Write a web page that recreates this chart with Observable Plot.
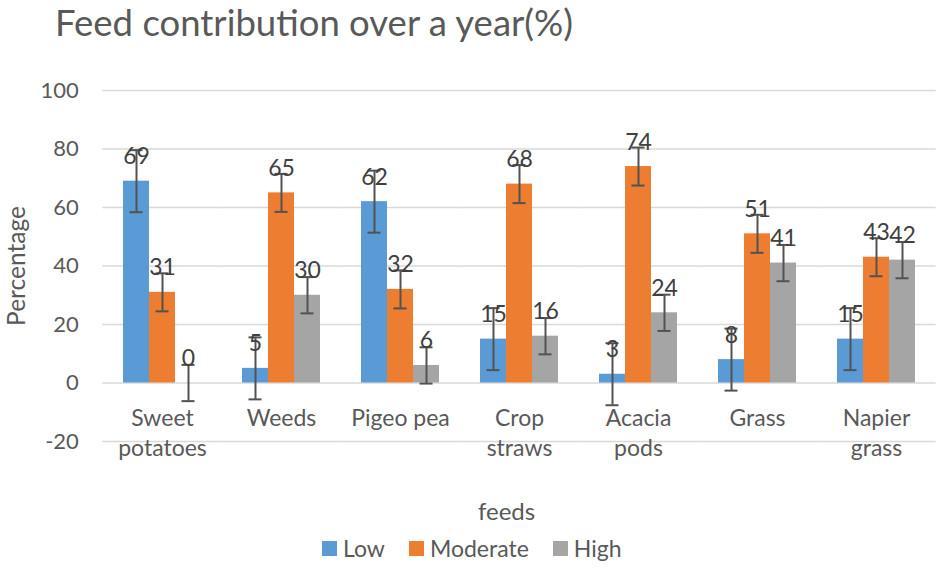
<!DOCTYPE html>
<html>
<head>
<meta charset="utf-8">
<script src="https://cdn.jsdelivr.net/npm/d3@7"></script>
<script src="https://cdn.jsdelivr.net/npm/@observablehq/plot@0.6"></script>
<style>
  body { margin: 0; background: #fff; font-family: Lato, "Open Sans", sans-serif; }
  #wrap { position: relative; width: 944px; height: 568px; overflow: hidden; background: #fff; }
  #chart { position: absolute; left: 0; top: 0; }
  #title { position: absolute; left: 55px; top: -2px; font-size: 36.5px; line-height: 48px; color: #595959; white-space: nowrap; }
  #xlabel { position: absolute; left: 478px; top: 496px; font-size: 24px; line-height: 30px; color: #595959; }
  #legend { position: absolute; left: 322px; top: 533px; display: flex; align-items: center; font-size: 23px; line-height: 30px; color: #595959; }
  .item { display: flex; align-items: center; margin-right: 24px; }
  .sw { width: 15px; height: 15px; margin-right: 6px; margin-top: 1px; }
</style>
</head>
<body>
<div id="wrap">
  <div id="chart"></div>
  <div id="title">Feed contribution over a year(%)</div>
  <div id="xlabel">feeds</div>
  <div id="legend"></div>
</div>
<script>
const categories = ["Sweet potatoes", "Weeds", "Pigeo pea", "Crop straws", "Acacia pods", "Grass", "Napier grass"];
const categoryLabels = ["Sweet\npotatoes", "Weeds", "Pigeo pea", "Crop\nstraws", "Acacia\npods", "Grass", "Napier\ngrass"];
const levels = ["Low", "Moderate", "High"];
const low = [69, 5, 62, 15, 3, 8, 15];
const moderate = [31, 65, 32, 68, 74, 51, 43];
const high = [0, 30, 6, 16, 24, 41, 42];
const lowErr = [10.6, 10.6, 10.6, 10.6, 10.6, 10.6, 10.6];
const moderateErr = [6.5, 6.5, 6.5, 6.5, 6.5, 6.5, 6.5];
const highErr = [6.2, 6.2, 6.2, 6.2, 6.2, 6.2, 6.2];
const yTicks = [-20, 0, 20, 40, 60, 80, 100];
const colors = ["#5B9BD5", "#ED7D31", "#A5A5A5"];

const series = [low, moderate, high];
const errs = [lowErr, moderateErr, highErr];
const data = [];
categories.forEach((c, i) => levels.forEach((l, j) => data.push({feed: c, level: l, value: series[j][i], err: errs[j][i]})));

const W = 944, H = 568, mL = 101, mR = 8;
const padInner = 0.346;
const halfGap = ((W - mL - mR) / categories.length) * padInner / 2;

const chart = Plot.plot({
  width: W,
  height: H,
  marginTop: 90,
  marginBottom: 127,
  marginLeft: mL,
  marginRight: mR,
  style: {fontFamily: "Lato, 'Open Sans', sans-serif", fontSize: "22px", color: "#595959", background: "transparent", overflow: "visible"},
  fx: {domain: categories, paddingInner: padInner, paddingOuter: padInner / 2, axis: null, label: null},
  x: {domain: levels, padding: 0, axis: null},
  y: {domain: [-20, 100], axis: null},
  color: {domain: levels, range: colors},
  marks: [
    Plot.ruleY(yTicks, {y: d => d, stroke: "#d9d9d9", strokeWidth: 1.5, insetLeft: -halfGap, insetRight: -halfGap}),
    Plot.axisY({ticks: yTicks, tickSize: 0, tickPadding: 24 + halfGap, tickFormat: d => String(d), fontSize: 22, fill: "#595959", label: null}),
    Plot.axisY({ticks: [], tickSize: 0, fontSize: 24.5, fill: "#595959",
      label: "Percentage", labelAnchor: "center", labelOffset: 95 + halfGap, labelArrow: "none"}),
    Plot.barY(data, {fx: "feed", x: "level", y: "value", fill: "level"}),
    Plot.ruleX(data, {fx: "feed", x: "level", y1: d => d.value - d.err, y2: d => d.value + d.err, stroke: "#525252", strokeWidth: 2}),
    Plot.tickY(data, {fx: "feed", x: "level", y: d => d.value - d.err, stroke: "#525252", strokeWidth: 2, inset: 6.5}),
    Plot.tickY(data, {fx: "feed", x: "level", y: d => d.value + d.err, stroke: "#525252", strokeWidth: 2, inset: 6.5}),
    Plot.text(data, {fx: "feed", x: "level", y: "value", text: d => String(d.value), lineAnchor: "bottom", dy: -17, fontSize: 23, fill: "#404040"}),
    Plot.text(categories, {fx: d => d, y: () => 0, text: (d, i) => categoryLabels[i], lineAnchor: "top", dy: 21, lineHeight: 1.32, fontSize: 23, fill: "#595959"})
  ]
});
document.getElementById("chart").appendChild(chart);

const legend = document.getElementById("legend");
levels.forEach((l, j) => {
  const item = document.createElement("div");
  item.className = "item";
  const sw = document.createElement("span");
  sw.className = "sw";
  sw.style.background = colors[j];
  const t = document.createElement("span");
  t.textContent = l;
  item.appendChild(sw);
  item.appendChild(t);
  legend.appendChild(item);
});
</script>
</body>
</html>
